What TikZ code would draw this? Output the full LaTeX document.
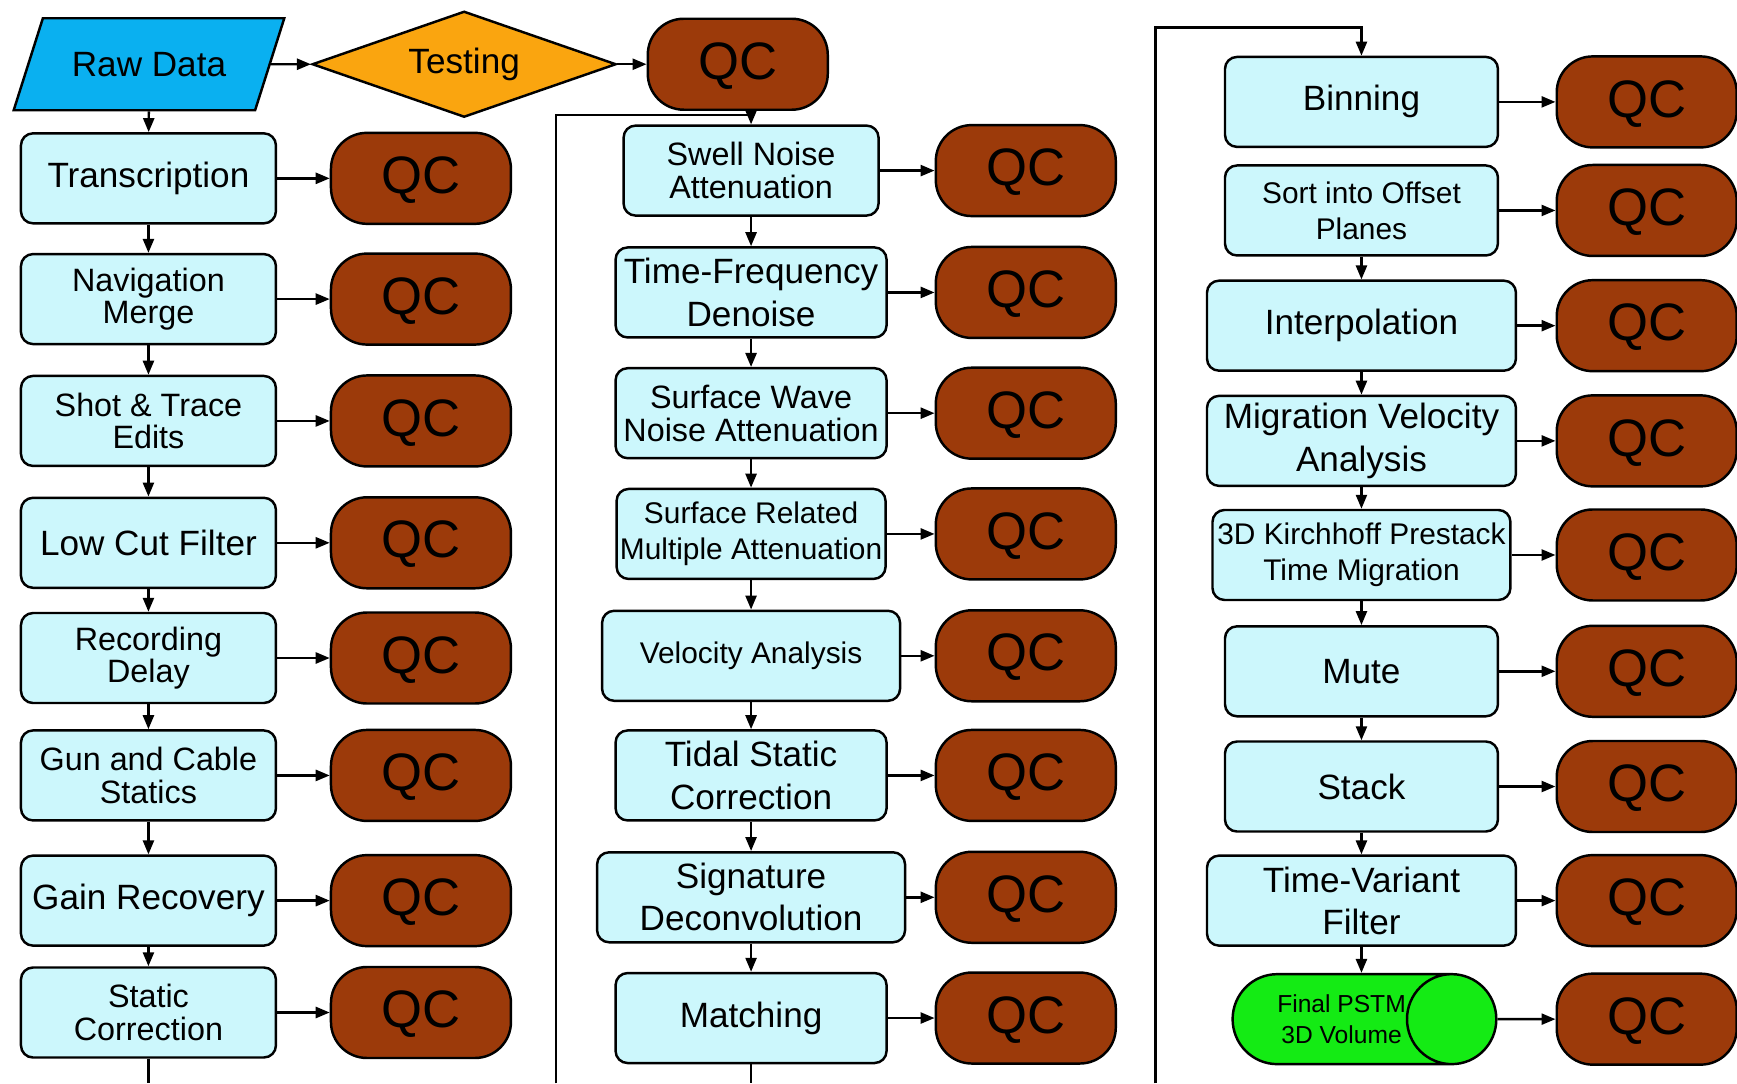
\documentclass[tikz,border=0pt]{standalone}
\usepackage{fontspec}
\setmainfont{Liberation Sans}
\usetikzlibrary{%
  arrows.meta,%
  shapes.geometric,% wg. diamond, trapezium, cylinder
  shapes.misc,%
  positioning,%
  calc
}
\definecolor{procfill}{RGB}{204,247,252}
\definecolor{qcbrown}{RGB}{156,58,10}
\definecolor{rawblue}{RGB}{10,176,240}
\definecolor{testorange}{RGB}{250,165,15}
\definecolor{volgreen}{RGB}{20,235,20}

\begin{document}
\begin{tikzpicture}[
  x=0.1108mm, y=-0.1108mm,
  >={Triangle[length=1.4mm,width=1.1mm]},
  line width=0.7pt,
  procbox/.style={rectangle, rounded corners=1.2mm, minimum height=9mm, draw=black, fill=procfill, inner sep=0pt, align=center, font=\fontsize{9.2}{9.3}\selectfont},
  big/.style={font=\fontsize{10}{12}\selectfont},
  small/.style={font=\fontsize{8.5}{10.3}\selectfont},
  qc/.style={rectangle, rounded corners=3.6mm, minimum height=9.1mm, minimum width=18mm, draw=black, fill=qcbrown, text height=10.95pt, text depth=2.3pt, font=\fontsize{15}{16}\selectfont},
  rawdata/.style={trapezium, trapezium left angle=63, trapezium right angle=117, trapezium stretches=true, minimum width=27.1mm, minimum height=9.2mm, draw=black, fill=rawblue, font=\fontsize{10}{12}\selectfont},
  testing/.style={diamond, aspect=2.85, minimum width=30.4mm, minimum height=10.6mm, inner sep=0pt, draw=black, fill=testorange, font=\fontsize{10}{12}\selectfont},
  volume/.style={cylinder, shape border rotate=0, aspect=1.85, cylinder uses custom fill, cylinder body fill=volgreen, cylinder end fill=volgreen, minimum height=25.8mm, minimum width=9mm, inner sep=0pt, draw=black, align=center, font=\fontsize{7}{8.6}\selectfont}
]
\useasboundingbox (0,0) rectangle (1568,978);

\node[rawdata] (raw) at (134.5,58) {Raw Data};
\node[testing] (test) at (419,58) {Testing};
\node[qc] (q0) at (666,58) {QC};
\draw[->] (raw) -- (test);
\draw[->] (test) -- (q0);

\node[procbox, big, minimum width=25.5mm] (a1) at (134,161) {Transcription};
\node[procbox, minimum width=25.5mm] (a2) at (134,270) {Navigation\\Merge};
\node[procbox, minimum width=25.5mm] (a3) at (134,380) {Shot \& Trace\\Edits};
\node[procbox, big, minimum width=25.5mm] (a4) at (134,490) {Low Cut Filter};
\node[procbox, minimum width=25.5mm] (a5) at (134,594) {Recording\\Delay};
\node[procbox, minimum width=25.5mm] (a6) at (134,700) {Gun and Cable\\Statics};
\node[procbox, big, minimum width=25.5mm] (a7) at (134,813) {Gain Recovery};
\node[procbox, minimum width=25.5mm] (a8) at (134,914) {Static\\Correction};

\node[procbox, minimum width=25.5mm] (b1) at (678,154) {Swell Noise\\Attenuation};
\node[procbox, big, minimum width=27.1mm] (b2) at (678,264) {Time-Frequency\\Denoise};
\node[procbox, minimum width=27.1mm] (b3) at (678,373) {Surface Wave\\Noise Attenuation};
\node[procbox, small, minimum width=26.9mm] (b4) at (678,482) {Surface Related\\Multiple Attenuation};
\node[procbox, small, minimum width=29.8mm] (b5) at (678,592) {Velocity Analysis};
\node[procbox, big, minimum width=27.1mm] (b6) at (678,700) {Tidal Static\\Correction};
\node[procbox, big, minimum width=30.8mm] (b7) at (678,810) {Signature\\Deconvolution};
\node[procbox, big, minimum width=27.1mm] (b8) at (678,919) {Matching};

\node[procbox, big, minimum width=27.3mm] (c1) at (1229,92) {Binning};
\node[procbox, small, minimum width=27.3mm] (c2) at (1229,190) {Sort into Offset\\Planes};
\node[procbox, big, minimum width=30.9mm] (c3) at (1229,294) {Interpolation};
\node[procbox, big, minimum width=30.9mm] (c4) at (1229,398) {Migration Velocity\\Analysis};
\node[procbox, small, minimum width=29.8mm] (c5) at (1229,501) {3D Kirchhoff Prestack\\Time Migration};
\node[procbox, big, minimum width=27.3mm] (c6) at (1229,606) {Mute};
\node[procbox, big, minimum width=27.3mm] (c7) at (1229,710) {Stack};
\node[procbox, big, minimum width=30.9mm] (c8) at (1229,813) {Time-Variant\\Filter};
\node[volume] (c9) at (1211,920) {Final PSTM\\3D Volume};

\foreach \i/\y in {1/161,2/270,3/380,4/490,5/594,6/700,7/813,8/914} {
  \node[qc] (qa\i) at (380,\y) {QC};
  \draw[->] (a\i) -- (qa\i);
}
\foreach \i/\y in {1/154,2/264,3/373,4/482,5/592,6/700,7/810,8/919} {
  \node[qc] (qb\i) at (926,\y) {QC};
  \draw[->] (b\i) -- (qb\i);
}
\foreach \i/\y in {1/92,2/190,3/294,4/398,5/501,6/606,7/710,8/813,9/920} {
  \node[qc] (qc\i) at (1486.5,\y) {QC};
  \draw[->] (c\i) -- (qc\i);
}

\draw[->] (raw) -- (a1);
\foreach \i/\j in {1/2,2/3,3/4,4/5,5/6,6/7,7/8} {
  \draw[->] (a\i) -- (a\j);
  \draw[->] (b\i) -- (b\j);
}
\foreach \i/\j in {2/3,3/4,4/5,5/6,6/7,7/8} {
  \draw[->] (c\i) -- (c\j);
}
\draw[->] (c8.south) -- (c8.south |- c9.north);

\coordinate (e1) at (134,978);
\coordinate (e2) at (678,978);
\coordinate (f2) at (502,978);
\coordinate (f3) at (1043,978);
\draw (a8) -- (e1);
\draw (b8) -- (e2);
\draw[->] (f2) -- (502,104) -| (b1);
\draw[->] (f3) -- (1043,25) -| (c1);

\end{tikzpicture}
\end{document}
